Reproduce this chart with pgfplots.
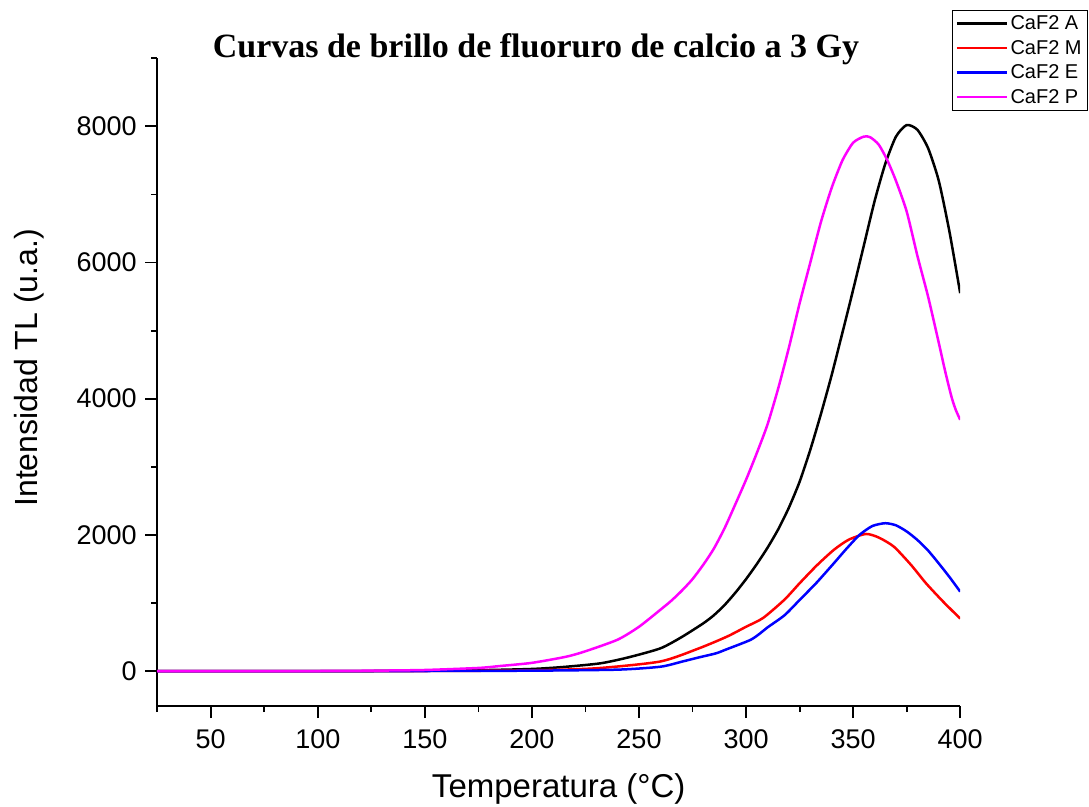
\documentclass[border=0pt]{standalone}
\usepackage{fontspec}
\setmainfont{Liberation Sans}
\newfontfamily\serifbf{Liberation Serif}
\usepackage{pgfplots}
\pgfplotsset{compat=1.18}
\definecolor{mag}{RGB}{255,0,255}
\definecolor{rd}{RGB}{255,0,0}
\definecolor{bl}{RGB}{0,0,255}
\pgfplotstableread{
T I
25 0
50 0
75 0
100 0
125 0
150 5
175 12
200 30
215 60
232 113
245 200
260 333
270 500
280 700
285 820
290 970
295 1150
300 1350
305 1570
310 1810
315 2080
320 2400
325 2780
330 3250
335 3780
340 4350
345 4970
350 5600
355 6250
360 6900
365 7450
370 7850
375 8020
380 7950
385 7680
390 7200
395 6450
400 5550
}\dataA
\pgfplotstableread{
T I
25 0
100 0
150 0
200 10
230 40
260 140
278 333
291 504
300 650
308 780
318 1050
325 1289
333 1550
341 1780
348 1930
356 2013
362 1960
369 1827
377 1560
384 1290
392 1020
400 770
}\dataM
\pgfplotstableread{
T I
25 0
100 0
150 0
200 5
240 20
260 63
270 137
278 200
286 260
291 320
302 456
306.6 554
310 640
318 820
325 1043
333 1300
341 1583
347 1800
353 2000
359 2130
365 2171
370 2140
375 2050
380 1925
385 1770
390 1580
395 1380
400 1166
}\dataE
\pgfplotstableread{
T I
25 0
50 0
75 0
100 0
125 5
150 15
175 45
185 73
200 120
216 210
225 290
240 460
250 650
260 900
265 1030
270 1180
275 1350
280 1560
285 1800
290 2100
295 2450
300 2810
305 3200
310 3620
315 4150
320 4750
325 5400
330 6000
335 6600
340 7100
345 7500
350 7760
355 7850
358 7840
362 7730
366 7500
370 7200
375 6750
380 6100
385 5500
390 4820
393 4400
396 4020
398 3830
400 3690
}\dataP
\begin{document}
\begin{tikzpicture}[x=1pt,y=1pt]
\begin{axis}[
  at={(0,0)}, anchor=south west,
  scale only axis, width=803pt, height=647.7pt,
  xmin=25, xmax=400, ymin=-514, ymax=9000,
  axis x line*=bottom, axis y line*=left,
  axis line style={line width=1.8pt, black},
  tick align=outside, major tick length=12pt, minor tick length=6pt,
  every tick/.style={line width=1.8pt, black},
  xtick={50,100,...,400}, minor xtick={25,75,125,...,375},
  ytick={0,2000,...,8000}, minor ytick={1000,3000,...,9000},
  /pgf/number format/assume math mode=true,
  /pgf/number format/1000 sep={},
  ticklabel style={font=\fontsize{27}{32}\selectfont},
  xticklabel style={yshift=-8pt},
  yticklabel style={xshift=-5pt},
  xlabel={Temperatura (°C)},
  ylabel={Intensidad TL (u.a.)},
  xlabel style={font=\fontsize{33}{40}\selectfont, at={(axis description cs:0.5,0)}, anchor=base, yshift=-91pt},
  ylabel style={font=\fontsize{32}{38}\selectfont, at={(axis description cs:0,0.522)}, anchor=base, yshift=120pt},
  title={\serifbf\bfseries Curvas de brillo de fluoruro de calcio a 3 Gy},
  title style={font=\fontsize{34}{40}\selectfont, at={(axis description cs:0.4717,1)}, anchor=base, yshift=-5pt},
  legend style={at={(axis description cs:0.9898,1.0746)}, anchor=north west, draw=black, line width=1pt,
    font=\fontsize{20}{24}\selectfont, nodes={inner sep=2.5pt}, row sep=4pt, inner sep=3pt},
  legend cell align=left,
  legend image code/.code={\draw[#1, line width=2.5pt] (0pt,0pt) -- (50pt,0pt);},
  every axis plot/.append style={line width=2.5pt, smooth, tension=0.4},
]
\addplot[black] table[x=T,y=I]{\dataA};
\addlegendentry{CaF2 A}
\addplot[rd] table[x=T,y=I]{\dataM};
\addlegendentry{CaF2 M}
\addplot[bl] table[x=T,y=I]{\dataE};
\addlegendentry{CaF2 E}
\addplot[mag] table[x=T,y=I]{\dataP};
\addlegendentry{CaF2 P}
\end{axis}
\pgfresetboundingbox
\path (-157.2,-100) rectangle (931.8,706);
\end{tikzpicture}
\end{document}
